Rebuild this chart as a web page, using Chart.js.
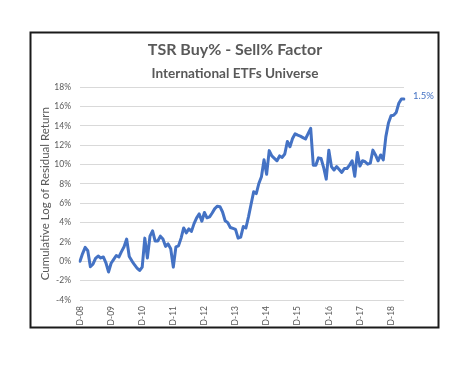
<!DOCTYPE html>
<html>
<head>
<meta charset="utf-8">
<script src="https://cdn.jsdelivr.net/npm/chart.js@4.4.1/dist/chart.umd.min.js"></script>
<style>
  html, body { margin: 0; padding: 0; background: #ffffff; }
  #wrap { position: absolute; left: 0; top: 0; width: 474px; height: 366px; }
</style>
</head>
<body>
<div id="wrap"><canvas id="c" width="474" height="366"></canvas></div>
<script>
// ---- data ----
const startYear = 2008;           // first point is December 2008
const monthLetters = ['J','F','M','A','M','J','J','A','S','O','N','D'];
const values = [
  0.0, 0.8, 1.45, 1.1, -0.55, -0.3, 0.3, 0.55, 0.35, 0.45, -0.15, -1.1,
  -0.2, 0.2, 0.6, 0.45, 1.0, 1.5, 2.3, 0.5, 0.05, -0.35, -0.7, -0.95,
  -0.6, 2.4, 0.35, 2.6, 3.15, 2.1, 2.1, 2.6, 2.3, 1.55, 1.8, 1.3,
  -0.6, 1.5, 1.6, 2.4, 3.45, 2.95, 3.35, 3.1, 3.9, 4.5, 4.9, 4.15,
  5.05, 4.5, 4.6, 5.0, 5.45, 5.7, 5.65, 5.1, 4.2, 4.0, 3.5, 3.4,
  3.3, 2.4, 2.5, 3.6, 3.45, 4.6, 5.9, 7.2, 7.0, 8.05, 8.75, 10.5,
  9.0, 11.45, 10.9, 10.65, 10.4, 10.9, 10.75, 11.1, 12.4, 11.85, 12.7, 13.2,
  13.05, 12.95, 12.8, 12.65, 13.2, 13.75, 9.95, 9.95, 10.7, 10.65, 9.7, 8.5,
  11.5, 9.8, 9.45, 9.8, 9.5, 9.2, 9.6, 9.6, 9.95, 10.4, 8.8, 11.25,
  9.85, 10.4, 10.3, 10.05, 10.15, 11.5, 11.0, 10.4, 11.0, 10.5, 12.9, 14.3,
  15.05, 15.1, 15.4, 16.35, 16.8, 16.8
];
const endLabel = '1.5%';
const yTicks = [-4, -2, 0, 2, 4, 6, 8, 10, 12, 14, 16, 18];
const titleText = 'TSR Buy% - Sell% Factor';
const subtitleText = 'International ETFs Universe';
const yAxisTitle = 'Cumulative Log of Residual Return';

// category labels: month letter + '-' + two-digit year, starting Dec 2008
const categories = [];
for (let i = 0; i < values.length; i++) {
  const m = (11 + i) % 12;
  const y = startYear + Math.floor((11 + i) / 12);
  categories.push(monthLetters[m] + '-' + String(y % 100).padStart(2, '0'));
}

const FONT = 'Lato, "Open Sans", sans-serif';
const GREY = '#595959';
const BLUE = '#4472C4';

const frame = {
  id: 'frame',
  afterDraw(chart) {
    const ctx = chart.ctx;
    ctx.save();
    ctx.strokeStyle = '#1a1a1a';
    ctx.lineWidth = 2;
    ctx.strokeRect(30.5, 32.5, 408, 295);
    ctx.restore();
  }
};

const titles = {
  id: 'titles',
  afterDraw(chart) {
    const ctx = chart.ctx;
    ctx.save();
    ctx.fillStyle = GREY;
    ctx.textAlign = 'center';
    ctx.textBaseline = 'alphabetic';
    ctx.font = 'bold 16px ' + FONT;
    ctx.fillText(titleText, 235, 55);
    ctx.font = 'bold 13.6px ' + FONT;
    ctx.fillText(subtitleText, 235, 77.5);
    ctx.restore();
  }
};

const endLabelPlugin = {
  id: 'endLabel',
  afterDatasetsDraw(chart) {
    const meta = chart.getDatasetMeta(0);
    const pt = meta.data[meta.data.length - 1];
    const ctx = chart.ctx;
    ctx.save();
    ctx.font = '9.5px ' + FONT;
    ctx.fillStyle = BLUE;
    ctx.textAlign = 'left';
    ctx.textBaseline = 'middle';
    ctx.fillText(endLabel, pt.x + 9, pt.y - 2.5);
    ctx.restore();
  }
};

new Chart(document.getElementById('c'), {
  type: 'line',
  data: {
    labels: categories,
    datasets: [{
      data: values,
      borderColor: BLUE,
      borderWidth: 3,
      pointRadius: 0,
      tension: 0,
      borderJoinStyle: 'round',
      borderCapStyle: 'round',
      fill: false
    }]
  },
  options: {
    responsive: false,
    animation: false,
    devicePixelRatio: 1,
    layout: { padding: { left: 30, right: 70, top: 87.3, bottom: 36 } },
    plugins: {
      legend: { display: false },
      tooltip: { enabled: false },
      title: { display: false },
      subtitle: { display: false }
    },
    scales: {
      x: {
        type: 'category',
        offset: false,
        grid: { display: false, drawTicks: false },
        border: { display: false },
        ticks: {
          autoSkip: false,
          maxRotation: 90,
          minRotation: 90,
          padding: 6,
          color: GREY,
          font: { family: FONT, size: 8.5 },
          callback: function (v, i) { return i % 12 === 0 ? this.getLabelForValue(v) : ''; }
        },
        afterFit(scale) { scale.height = 30; }
      },
      y: {
        min: -4,
        max: 18,
        afterBuildTicks(scale) { scale.ticks = yTicks.map(v => ({ value: v })); },
        grid: { color: '#D9D9D9', lineWidth: 1, drawTicks: false },
        border: { display: false },
        ticks: {
          padding: 9,
          color: GREY,
          font: { family: FONT, size: 8.5 },
          callback: v => v + '%'
        },
        title: {
          display: true,
          text: yAxisTitle,
          color: GREY,
          font: { family: FONT, size: 11.5 },
          padding: { top: 8, bottom: 0 }
        },
        afterFit(scale) { scale.width = 50; }
      }
    }
  },
  plugins: [frame, titles, endLabelPlugin]
});
</script>
</body>
</html>
